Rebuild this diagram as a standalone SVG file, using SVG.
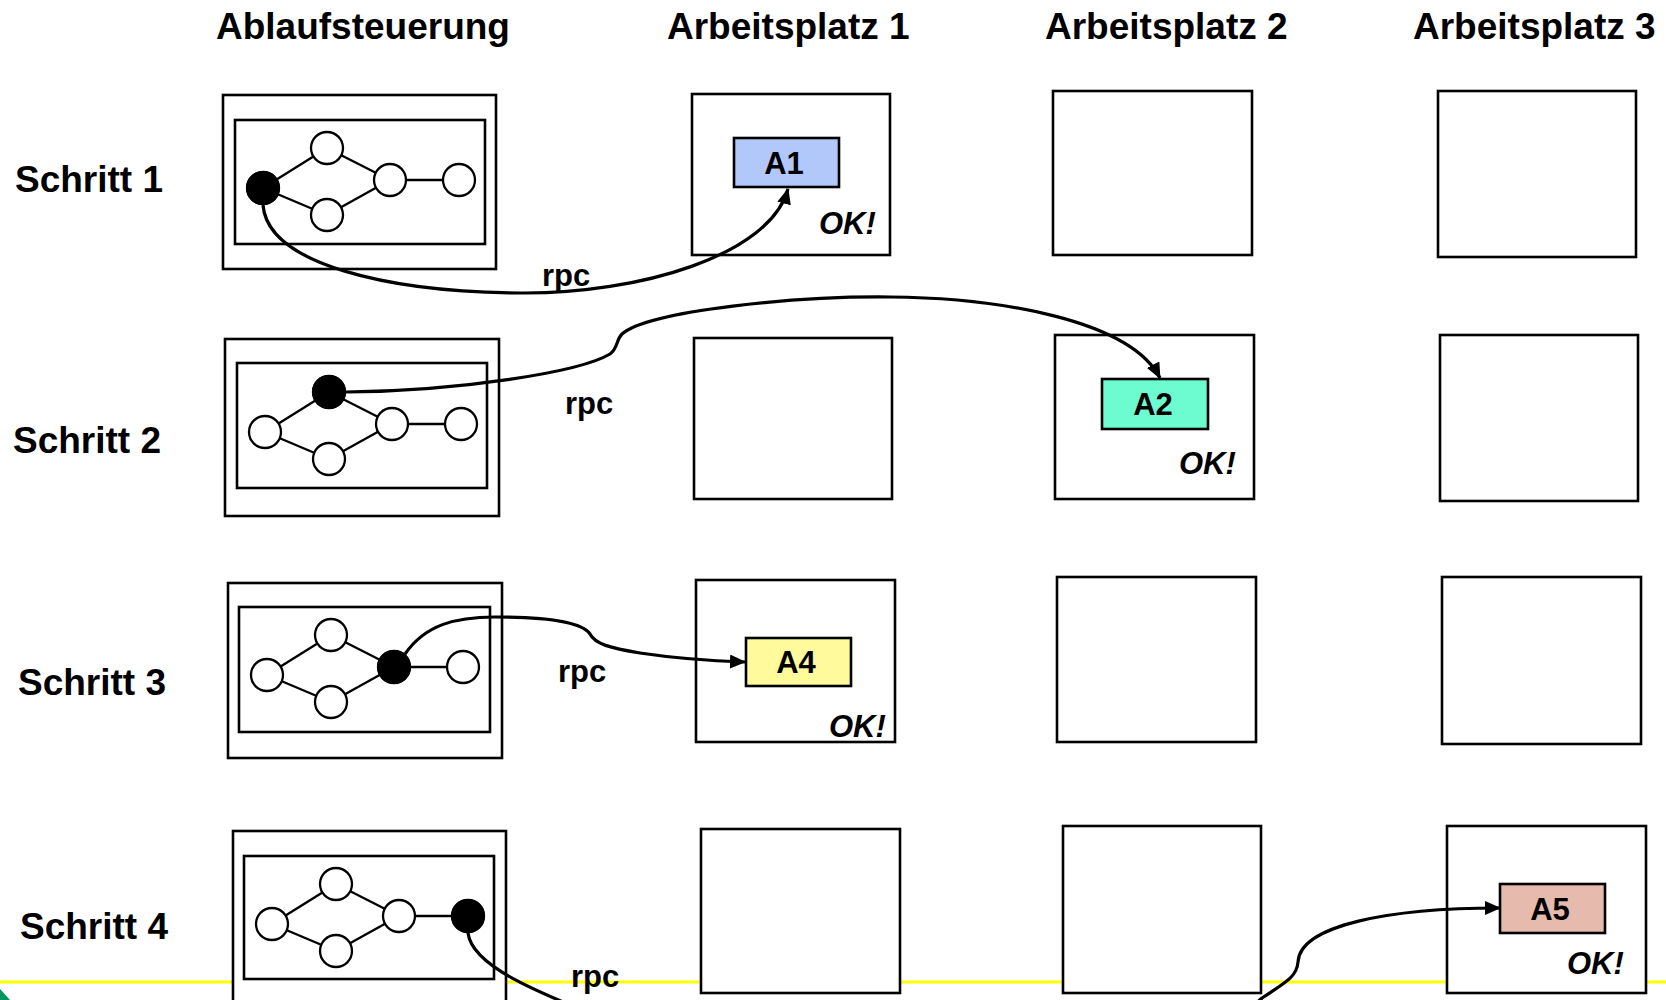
<svg xmlns="http://www.w3.org/2000/svg" xmlns:xlink="http://www.w3.org/1999/xlink" width="1666" height="1000" viewBox="0 0 1666 1000">
  <style>
    .hdr { font-family: "Liberation Sans", Arial, sans-serif; font-weight: bold; font-size: 37px; fill: #000; }
    .row { font-family: "Liberation Sans", Arial, sans-serif; font-weight: bold; font-size: 37px; fill: #000; }
    .rpc { font-family: "Liberation Sans", Arial, sans-serif; font-weight: bold; font-size: 31px; fill: #000; }
    .ok { font-family: "Liberation Sans", Arial, sans-serif; font-weight: bold; font-style: italic; font-size: 31px; fill: #000; }
    .task { font-family: "Liberation Sans", Arial, sans-serif; font-weight: bold; font-size: 31px; fill: #000; text-anchor: middle; }
    .box { fill: #fff; stroke: #000; stroke-width: 2.6; }
    .tbox { stroke: #000; stroke-width: 2.6; }
    .edge { stroke: #000; stroke-width: 2.4; fill: none; }
    .wn { fill: #fff; stroke: #000; stroke-width: 2.3; }
    .fn { fill: #000; }
    .conn { fill: none; stroke: #000; stroke-width: 3.2; }
  </style>
  <defs>
    <marker id="arrow" markerUnits="userSpaceOnUse" markerWidth="16" markerHeight="14" refX="15" refY="7" orient="auto">
      <path d="M0,0 L16,7 L0,14 z" fill="#000"/>
    </marker>
    <g id="graph">
      <line class="edge" x1="28" y1="68" x2="92" y2="28"/>
      <line class="edge" x1="28" y1="68" x2="92" y2="95"/>
      <line class="edge" x1="92" y1="28" x2="155" y2="60"/>
      <line class="edge" x1="92" y1="95" x2="155" y2="60"/>
      <line class="edge" x1="155" y1="60" x2="224" y2="60"/>
      <circle class="wn" cx="28" cy="68" r="16"/>
      <circle class="wn" cx="92" cy="28" r="16"/>
      <circle class="wn" cx="92" cy="95" r="16"/>
      <circle class="wn" cx="155" cy="60" r="16"/>
      <circle class="wn" cx="224" cy="60" r="16"/>
    </g>
  </defs>

  <rect x="0" y="0" width="1666" height="1000" fill="#fff"/>
  <line x1="0" y1="982" x2="1666" y2="982" stroke="#ffff00" stroke-width="3"/>
  <polygon points="0,989 10,1000 0,1000" fill="#00965e"/>

  <g id="headers">
    <text class="hdr" x="216" y="39">Ablaufsteuerung</text>
    <text class="hdr" x="667" y="39">Arbeitsplatz 1</text>
    <text class="hdr" x="1045" y="39">Arbeitsplatz 2</text>
    <text class="hdr" x="1413" y="39">Arbeitsplatz 3</text>
  </g>
  <g id="row-labels">
    <text class="row" x="15" y="192">Schritt 1</text>
    <text class="row" x="13" y="453">Schritt 2</text>
    <text class="row" x="18" y="695">Schritt 3</text>
    <text class="row" x="20" y="939">Schritt 4</text>
  </g>

  <!-- Ablaufsteuerung -->
  <g id="ctrl-1">
    <rect class="box" x="223" y="95" width="273" height="174"/>
    <rect class="box" x="235" y="120" width="250" height="124"/>
    <g transform="translate(235,120)">
      <use xlink:href="#graph"/>
      <circle class="fn" cx="28" cy="68" r="17"/>
    </g>
  </g>
  <g id="ctrl-2">
    <rect class="box" x="225" y="339" width="274" height="177"/>
    <rect class="box" x="237" y="363" width="250" height="125"/>
    <g transform="translate(237,364)">
      <use xlink:href="#graph"/>
      <circle class="fn" cx="92" cy="28" r="17"/>
    </g>
  </g>
  <g id="ctrl-3">
    <rect class="box" x="228" y="583" width="274" height="175"/>
    <rect class="box" x="239" y="607" width="251" height="125"/>
    <g transform="translate(239,607)">
      <use xlink:href="#graph"/>
      <circle class="fn" cx="155" cy="60" r="17"/>
    </g>
  </g>
  <g id="ctrl-4">
    <rect class="box" x="233" y="831" width="273" height="180"/>
    <rect class="box" x="244" y="856" width="250" height="123"/>
    <g transform="translate(244,856)">
      <use xlink:href="#graph"/>
      <circle class="fn" cx="224" cy="60" r="17"/>
    </g>
  </g>

  <!-- Arbeitsplaetze -->
  <g id="ap1-s1"><rect class="box" x="692" y="94" width="198" height="161"/></g>
  <g id="ap2-s1"><rect class="box" x="1053" y="91" width="199" height="164"/></g>
  <g id="ap3-s1"><rect class="box" x="1438" y="91" width="198" height="166"/></g>

  <g id="ap1-s2"><rect class="box" x="694" y="338" width="198" height="161"/></g>
  <g id="ap2-s2"><rect class="box" x="1055" y="335" width="199" height="164"/></g>
  <g id="ap3-s2"><rect class="box" x="1440" y="335" width="198" height="166"/></g>

  <g id="ap1-s3"><rect class="box" x="696" y="580" width="199" height="162"/></g>
  <g id="ap2-s3"><rect class="box" x="1057" y="577" width="199" height="165"/></g>
  <g id="ap3-s3"><rect class="box" x="1442" y="577" width="199" height="167"/></g>

  <g id="ap1-s4"><rect class="box" x="701" y="829" width="199" height="164"/></g>
  <g id="ap2-s4"><rect class="box" x="1063" y="826" width="198" height="167"/></g>
  <g id="ap3-s4"><rect class="box" x="1447" y="826" width="199" height="167"/></g>

  <!-- Tasks -->
  <g id="task-A1">
    <rect class="tbox" x="734" y="138" width="105" height="49" fill="#b3c8fa"/>
    <text class="task" x="784" y="174">A1</text>
  </g>
  <g id="task-A2">
    <rect class="tbox" x="1102" y="379" width="106" height="50" fill="#6cfccf"/>
    <text class="task" x="1153" y="415">A2</text>
  </g>
  <g id="task-A4">
    <rect class="tbox" x="746" y="638" width="105" height="48" fill="#fffa9c"/>
    <text class="task" x="796" y="673">A4</text>
  </g>
  <g id="task-A5">
    <rect class="tbox" x="1500" y="884" width="105" height="49" fill="#e6baad"/>
    <text class="task" x="1550" y="920">A5</text>
  </g>

  <g id="ok-labels">
    <text class="ok" x="819" y="234">OK!</text>
    <text class="ok" x="1179" y="474">OK!</text>
    <text class="ok" x="829" y="737">OK!</text>
    <text class="ok" x="1567" y="974">OK!</text>
  </g>

  <g id="connectors">
    <path class="conn" marker-end="url(#arrow)" d="M 263,205 C 268,265 390,292 520,293 C 640,294 770,255 788,189"/>
    <path class="conn" marker-end="url(#arrow)" d="M 346,392 C 460,391 580,372 610,354 C 618,348 616,340 622,334 C 650,310 800,296 890,297 C 1000,298 1130,320 1160,378"/>
    <path class="conn" marker-end="url(#arrow)" d="M 405,654 C 425,625 455,617 495,617 C 545,617 582,622 590,634 C 595,644 610,648 640,653 C 680,659 715,661 745,662"/>
    <path class="conn" marker-end="url(#arrow)" d="M 468,933 C 472,965 530,990 620,1025 C 800,1090 1210,1050 1262,998 C 1290,980 1297,975 1298,962 C 1300,925 1390,908 1500,908"/>
  </g>

  <g id="rpc-labels">
    <text class="rpc" x="542" y="286">rpc</text>
    <text class="rpc" x="565" y="414">rpc</text>
    <text class="rpc" x="558" y="682">rpc</text>
    <text class="rpc" x="571" y="987">rpc</text>
  </g>
</svg>
